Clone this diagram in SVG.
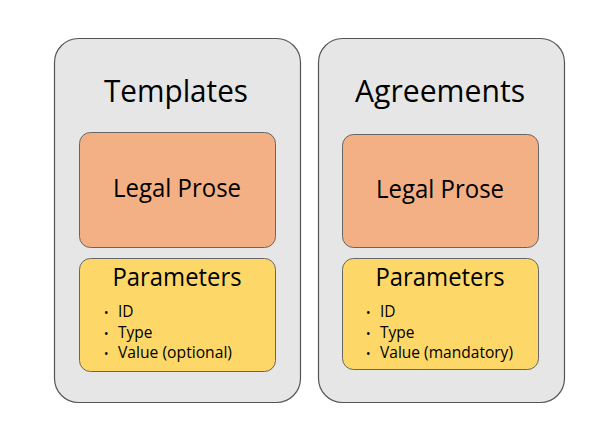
<svg xmlns="http://www.w3.org/2000/svg" width="602" height="436" viewBox="0 0 602 436">
<style>
.outer{fill:#e6e6e6;stroke:#555;stroke-width:1.2}
.prose{fill:#f3b084;stroke:#666;stroke-width:1}
.params{fill:#fdd868;stroke:#666;stroke-width:1}
text{font-family:"Open Sans","Noto Sans",sans-serif;fill:#000}
.title{font-size:31px;text-anchor:middle}
.head{font-size:25px;text-anchor:middle}
.item{font-size:15.5px}
.dot{font-size:12px}
</style>
<rect width="602" height="436" fill="#fff"/>
<g id="templates">
<rect class="outer" x="54.5" y="38.5" width="246" height="364" rx="24"/>
<text class="title" x="176" y="102" textLength="144" lengthAdjust="spacingAndGlyphs">Templates</text>
</g>
<g id="templates-legal-prose">
<rect class="prose" x="79.5" y="132.5" width="196" height="115" rx="11"/>
<text class="head" x="177" y="197" textLength="128" lengthAdjust="spacingAndGlyphs">Legal Prose</text>
</g>
<g id="templates-parameters">
<rect class="params" x="79.5" y="258.5" width="196" height="113" rx="11"/>
<text class="head" x="177" y="286" textLength="129" lengthAdjust="spacingAndGlyphs">Parameters</text>
<text class="dot" x="104" y="317">•</text><text class="item" x="118" y="317">ID</text>
<text class="dot" x="104" y="338">•</text><text class="item" x="118" y="338">Type</text>
<text class="dot" x="104" y="358">•</text><text class="item" x="118" y="358" textLength="114" lengthAdjust="spacingAndGlyphs">Value (optional)</text>
</g>
<g id="agreements">
<rect class="outer" x="318.5" y="38.5" width="246" height="364" rx="24"/>
<text class="title" x="440" y="102" textLength="170" lengthAdjust="spacingAndGlyphs">Agreements</text>
</g>
<g id="agreements-legal-prose">
<rect class="prose" x="342.5" y="134.5" width="196" height="113" rx="11"/>
<text class="head" x="440" y="198" textLength="128" lengthAdjust="spacingAndGlyphs">Legal Prose</text>
</g>
<g id="agreements-parameters">
<rect class="params" x="342.5" y="258.5" width="196" height="111" rx="11"/>
<text class="head" x="440" y="286" textLength="129" lengthAdjust="spacingAndGlyphs">Parameters</text>
<text class="dot" x="366" y="317">•</text><text class="item" x="380" y="317">ID</text>
<text class="dot" x="366" y="338">•</text><text class="item" x="380" y="338">Type</text>
<text class="dot" x="366" y="358">•</text><text class="item" x="380" y="358" textLength="133" lengthAdjust="spacingAndGlyphs">Value (mandatory)</text>
</g>
<g id="connectors"></g>
</svg>
